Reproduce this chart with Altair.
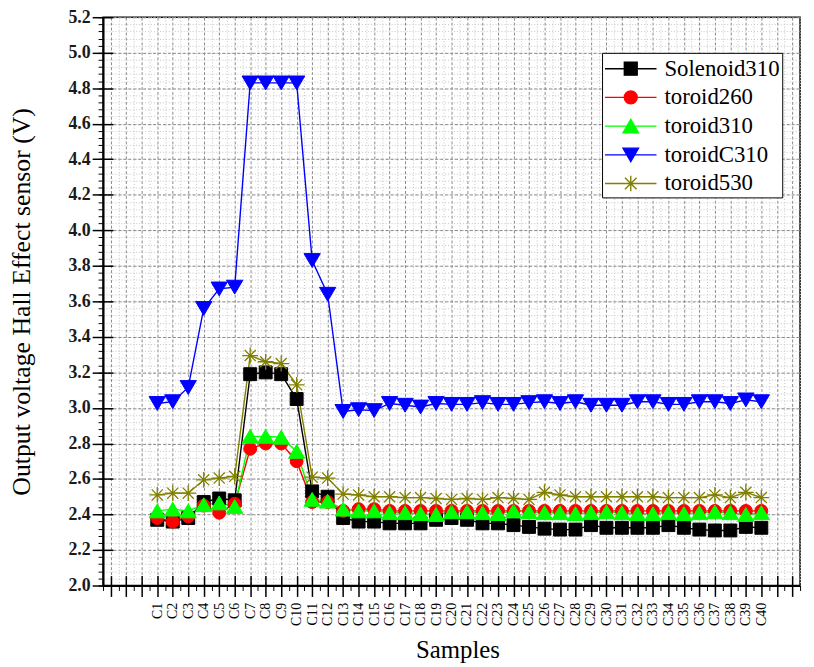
import altair as alt
import pandas as pd

# ---------------- data ----------------
samples = list(range(1, 41))  # C1 ... C40
series_names = ["Solenoid310", "toroid260", "toroid310", "toroidC310", "toroid530"]
series_colors = ["#000000", "#ff0000", "#00ff00", "#0000ff", "#808000"]

solenoid310 = [2.37, 2.36, 2.38, 2.47, 2.49, 2.48, 3.19, 3.20, 3.19, 3.05,
               2.53, 2.50, 2.38, 2.36, 2.36, 2.35, 2.35, 2.35, 2.37, 2.38,
               2.37, 2.35, 2.35, 2.34, 2.33, 2.32, 2.315, 2.315, 2.34, 2.325,
               2.325, 2.325, 2.325, 2.34, 2.325, 2.315, 2.31, 2.31, 2.33, 2.325]
toroid260 = [2.38, 2.36, 2.39, 2.45, 2.41, 2.46, 2.77, 2.80, 2.80, 2.70,
             2.47, 2.47, 2.42, 2.43, 2.43, 2.42, 2.42, 2.42, 2.42, 2.42,
             2.42, 2.42, 2.42, 2.42, 2.42, 2.42, 2.42, 2.42, 2.42, 2.42,
             2.42, 2.42, 2.42, 2.42, 2.42, 2.42, 2.42, 2.42, 2.42, 2.42]
toroid310 = [2.42, 2.43, 2.42, 2.455, 2.465, 2.445, 2.84, 2.84, 2.835, 2.755,
             2.485, 2.475, 2.43, 2.42, 2.42, 2.41, 2.41, 2.405, 2.40, 2.415,
             2.415, 2.41, 2.405, 2.42, 2.415, 2.41, 2.41, 2.405, 2.41, 2.415,
             2.41, 2.405, 2.405, 2.41, 2.405, 2.41, 2.415, 2.41, 2.40, 2.41]
toroidC310 = [3.025, 3.035, 3.115, 3.56, 3.67, 3.68, 4.83, 4.83, 4.83, 4.83,
              3.83, 3.64, 2.98, 2.99, 2.985, 3.025, 3.015, 3.005, 3.025, 3.02,
              3.02, 3.03, 3.02, 3.02, 3.03, 3.035, 3.025, 3.035, 3.015, 3.015,
              3.015, 3.035, 3.035, 3.02, 3.02, 3.035, 3.035, 3.025, 3.045, 3.035]
toroid530 = [2.51, 2.52, 2.52, 2.595, 2.605, 2.615, 3.295, 3.26, 3.25, 3.13,
             2.61, 2.605, 2.515, 2.51, 2.50, 2.50, 2.495, 2.495, 2.49, 2.485,
             2.49, 2.485, 2.495, 2.49, 2.485, 2.525, 2.51, 2.50, 2.50, 2.50,
             2.50, 2.50, 2.50, 2.495, 2.495, 2.495, 2.51, 2.495, 2.525, 2.495]

all_values = [solenoid310, toroid260, toroid310, toroidC310, toroid530]

rows = []
for name, vals in zip(series_names, all_values):
    for s, v in zip(samples, vals):
        rows.append({"sample": s, "value": v, "series": name})
df = pd.DataFrame(rows)

# ---------------- styling ----------------
FONT = "Liberation Serif"
x_scale = alt.Scale(domain=[-2.5, 42.5], nice=False, zero=False)
y_scale = alt.Scale(domain=[2.0, 5.2], nice=False, zero=False)

x_major_vals = list(range(-2, 43))
x_minor_vals = [i + 0.5 for i in range(-3, 43)]
y_major_vals = [round(2.0 + 0.2 * i, 2) for i in range(17)]
y_minor_vals = [round(2.0 + 0.04 * i, 2) for i in range(81)]

marker_paths = [
    "M -1 -1 L 1 -1 L 1 1 L -1 1 Z",
    "circle",
    "M 0 -0.85 L 1 0.85 L -1 0.85 Z",
    "M -1 -0.85 L 1 -0.85 L 0 0.85 Z",
    "M -1 0 L 1 0 M 0 -1 L 0 1 M -0.7 -0.7 L 0.7 0.7 M -0.7 0.7 L 0.7 -0.7",
]
marker_sizes = [170, 170, 270, 270, 256]
marker_filled = [True, True, True, True, False]

legend_paths = [
    "M -1 0 L 3 0 M 0.5 -0.5 L 1.5 -0.5 L 1.5 0.5 L 0.5 0.5 Z",
    "M -1 0 L 3 0 M 0.5 0 A 0.5 0.5 0 1 0 1.5 0 A 0.5 0.5 0 1 0 0.5 0 Z",
    "M -1 0 L 3 0 M 1 -0.52 L 1.6 0.52 L 0.4 0.52 Z",
    "M -1 0 L 3 0 M 0.4 -0.52 L 1.6 -0.52 L 1 0.52 Z",
    "M -1 0 L 3 0 M 1 -0.6 L 1 0.6 M 0.55 -0.45 L 1.45 0.45 M 0.55 0.45 L 1.45 -0.45",
]

base = alt.Chart(df)

x_major_axis = alt.Axis(
    orient="bottom",
    values=x_major_vals,
    labelExpr="datum.value >= 1 && datum.value <= 40 ? 'C' + datum.value : ''",
    labelAngle=270, labelFont=FONT, labelFontSize=14, labelColor="black",
    labelPadding=6, labelOverlap=False, labelFlush=False,
    tickSize=11, tickColor="black", tickWidth=1.5,
    domain=True, domainColor="black", domainWidth=2,
    grid=True, gridColor="#8a8a8a", gridDash=[3, 2], gridWidth=1,
    title="Samples", titleFont=FONT, titleFontSize=25, titleFontWeight="normal",
    titleColor="black", titleX=358, titleY=65, titleBaseline="middle", titleAlign="center",
)
y_major_axis = alt.Axis(
    orient="left",
    values=y_major_vals, format=".1f",
    labelFont=FONT, labelFontSize=18, labelFontWeight="bold", labelColor="#1a1a1a",
    labelPadding=2,
    tickSize=11, tickColor="black", tickWidth=1.5,
    domain=True, domainColor="black", domainWidth=2,
    grid=True, gridColor="#8a8a8a", gridDash=[3, 2], gridWidth=1,
    title="Output voltage Hall Effect sensor (V)", titleFont=FONT, titleFontSize=26,
    titleFontWeight="normal", titleColor="black", titleX=-82, titleY=287,
    titleAngle=270, titleBaseline="middle", titleAlign="center",
)
x_minor_axis = alt.Axis(
    orient="bottom",
    values=x_minor_vals, labels=False, domain=False, title=None,
    tickSize=5, tickColor="black", tickWidth=1,
    grid=True, gridColor="#c4c4c4", gridDash=[1, 2], gridWidth=1,
)
y_minor_axis = alt.Axis(
    orient="left",
    values=y_minor_vals, labels=False, domain=False, title=None,
    tickSize=5, tickColor="black", tickWidth=1,
    grid=True, gridColor="#c4c4c4", gridDash=[1, 2], gridWidth=1,
)
x_inner_axis = alt.Axis(
    orient="bottom",
    values=x_major_vals, labels=False, domain=False, title=None, grid=False,
    offset=-10, tickSize=10, tickColor="black", tickWidth=1.5,
)
y_inner_axis = alt.Axis(
    orient="left",
    values=y_major_vals, labels=False, domain=False, title=None, grid=False,
    offset=-10, tickSize=10, tickColor="black", tickWidth=1.5,
)

axis_sets = [
    (x_minor_axis, y_minor_axis),
    (x_inner_axis, y_inner_axis),
    (x_major_axis, y_major_axis),
]

layers = []
for k, (name, col) in enumerate(zip(series_names, series_colors)):
    if k < len(axis_sets):
        xa, ya = axis_sets[k]
    else:
        xa, ya = None, None
    line = base.transform_filter(alt.datum.series == name).mark_line(
        color=col, strokeWidth=1.4
    ).encode(
        x=alt.X("sample:Q", scale=x_scale, axis=xa),
        y=alt.Y("value:Q", scale=y_scale, axis=ya),
    )
    layers.append(line)

for k, (name, col) in enumerate(zip(series_names, series_colors)):
    pts = base.transform_filter(alt.datum.series == name).mark_point(
        shape=marker_paths[k], size=marker_sizes[k], filled=marker_filled[k],
        fill=col if marker_filled[k] else "transparent", stroke=col,
        strokeWidth=1 if marker_filled[k] else 1.3, opacity=1,
    ).encode(
        x=alt.X("sample:Q", scale=x_scale, axis=None),
        y=alt.Y("value:Q", scale=y_scale, axis=None),
    )
    layers.append(pts)

legend_layer = base.transform_filter("false").mark_point(
    filled=True, opacity=1, strokeWidth=1.4
).encode(
    x=alt.X("sample:Q", scale=x_scale, axis=None),
    y=alt.Y("value:Q", scale=y_scale, axis=None),
    fill=alt.Fill("series:N", scale=alt.Scale(domain=series_names, range=series_colors),
                  legend=alt.Legend(title=None)),
    stroke=alt.Stroke("series:N", scale=alt.Scale(domain=series_names, range=series_colors),
                      legend=alt.Legend(title=None)),
    shape=alt.Shape("series:N", scale=alt.Scale(domain=series_names, range=legend_paths),
                    legend=alt.Legend(title=None)),
)
layers.append(legend_layer)

chart = alt.layer(*layers).resolve_axis(
    x="independent", y="independent"
).properties(
    width=704, height=574,
    autosize=alt.AutoSizeParams(type="none"),
    padding={"left": 96, "top": 6, "right": 6, "bottom": 79},
).configure_view(
    stroke="black", strokeWidth=1.5,
).configure_legend(
    orient="none", legendX=504, legendY=36,
    strokeColor="black", fillColor="white", padding=2,
    symbolSize=676, symbolStrokeWidth=1.4, labelOffset=33, rowPadding=3,
    labelFont=FONT, labelFontSize=23, labelColor="black", cornerRadius=0,
    labelLimit=300,
)

chart.save("out.html", embed_options={"renderer": "svg", "actions": False})
